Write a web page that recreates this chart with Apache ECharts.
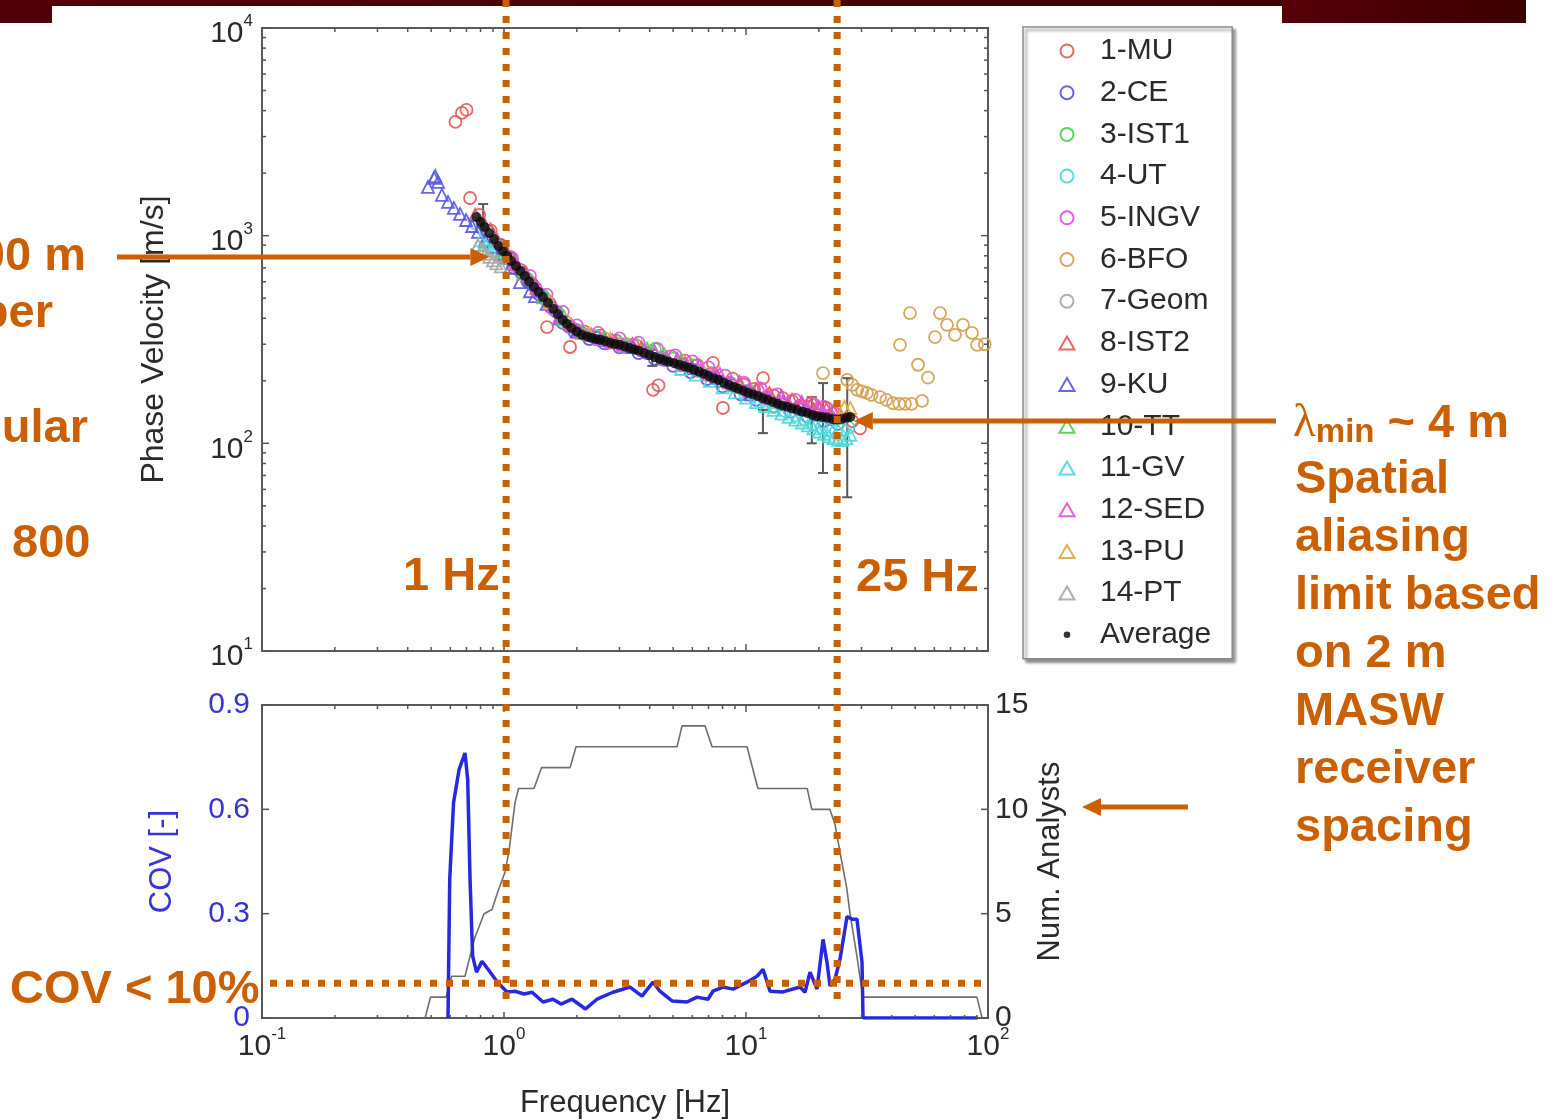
<!DOCTYPE html>
<html><head><meta charset="utf-8">
<script src="https://cdn.jsdelivr.net/npm/echarts@6/dist/echarts.min.js"></script>
<style>html,body{margin:0;padding:0;background:#fff;}#c{width:1557px;height:1120px;}</style>
</head><body><div id="c"></div>
<script>
// ---------------- data ----------------
const xMajorTicks = [0.1, 1, 10, 100];
const vMajorTicks = [10, 100, 1000, 10000];
const minorMult = [2, 3, 4, 5, 6, 7, 8, 9];
const covTicks = [0, 0.3, 0.6, 0.9];
const numTicks = [0, 5, 10, 15];

const seriesNames = ['1-MU','2-CE','3-IST1','4-UT','5-INGV','6-BFO','7-Geom','8-IST2','9-KU','10-TT','11-GV','12-SED','13-PU','14-PT'];

const mu = [[0.63,3530],[0.67,3900],[0.70,4030],[0.724,1518],[0.79,1260],[0.88,1060],[0.97,900],[1.06,790],[1.18,680],[1.3,590],[1.506,363],[1.55,470],[1.875,291],[2.15,345],[2.5,330],[2.9,312],[3.4,298],[4.13,181],[4.35,190],[4.9,262],[5.6,250],[6.3,238],[7.3,244],[8.03,148],[8.8,205],[9.8,192],[10.8,183],[11.76,206],[13.0,170],[14.2,165],[15.5,160],[16.8,152],[18.2,150],[18.7,157],[19.8,146],[21.5,148],[23.2,140],[27.5,128],[29.6,118]];
const ce = [[0.86,1050],[0.96,905],[1.06,770],[1.18,660],[1.32,575],[1.48,495],[1.65,430],[1.85,365],[2.1,338],[2.4,322],[2.8,306],[3.3,290],[3.9,272],[4.6,252],[5.4,238],[6.3,224],[7.4,206],[8.7,190],[10.2,177],[12.0,165],[14.0,154],[16.5,146],[19.5,137],[22.5,131],
  [1.0,780],[1.1,700],[1.25,600],[1.4,520],[1.55,455],[1.75,380],[1.95,345],[2.25,318],[2.6,303],[3.0,290],[3.6,272],[4.2,255],[5.0,236],[5.9,220],[6.9,204],[8.0,188],[9.5,172],[11.0,162],[13.0,150],[15.3,142],[18.0,134],[21.0,128],[24.0,124]];
const ist1 = [[1.08,740],[1.25,620],[1.45,515],[1.7,415],[2.0,352],[2.4,328],[2.9,312],[3.5,298],[4.2,284],[5.0,256],[6.0,238],[7.2,218],[8.6,196],[10.3,180]];
const ut = [[0.76,1150],[0.81,1080],[0.86,1000],[0.92,925],[0.99,845],[1.07,760],[11.5,158],[13.0,150],[14.5,143],[16.0,136],[17.5,130],[19.0,124],[20.5,119],[22.0,116],[23.5,114],[25.0,116],[26.5,119]];
const ingv = [[0.98,860],[1.15,690],[1.35,560],[1.6,440],[1.9,362],[2.25,330],[2.7,305],[3.2,290],[3.8,276],[4.5,258],[5.3,242],[6.2,226],[7.3,210],[8.6,194],[10.1,178],[12.0,166],[14.0,158],[16.5,150],[19.0,143],[22.0,136],
  [1.08,780],[1.28,640],[1.5,520],[1.75,430],[2.0,370],[2.45,340],[3.0,320],[3.6,305],[4.3,285],[5.1,265],[6.0,248],[7.0,232],[8.2,212],[9.8,196],[11.5,184],[13.5,172],[16.0,162],[18.5,155],[21.0,150]];
const bfo = [[2.0,345],[2.6,320],[3.2,300],[20.8,218],[26.2,202],[27.5,191],[28.8,181],[30.2,178],[31.6,175],[33.0,171],[35.8,167],[38.0,162],[40.5,156],[43.0,155],[45.4,155],[48.3,155],[53.4,160],[43.3,298],[47.6,424],[51.4,239],[56.5,207],[60.4,325],[63.4,424],[67.7,372],[73.0,333],[78.8,372],[85.9,340],[90.1,298],[97.0,300]];
const geom = [[0.9,960],[1.1,720],[1.5,490],[2.2,335],[3.0,300],[4.5,255],[6.5,222],[9.0,186],[13.0,158]];
const ist2 = [[0.76,1260],[0.82,1170],[0.88,1070],[0.94,950],[1.01,860],[1.1,760],[1.22,660],[1.36,560],[2.9,308],[3.7,290],[5.6,244],[7.6,212],[9.4,192],[11.0,182],[12.5,175],[14.0,168],[15.5,162],[17.0,156],[18.5,152],[20.0,148],[21.5,146],[23.0,142],[24.5,138]];
const ku = [[0.485,1716],[0.514,1897],[0.52,1935],[0.534,1814],[0.554,1571],[0.587,1453],[0.621,1360],[0.658,1272],[0.697,1190],[0.738,1113],[0.781,1042],[0.835,953],[0.892,882],[0.963,816],[1.059,699],[1.164,598],[1.28,540],[1.343,512],[1.5,470],[1.7,400],[2.0,345],[2.6,315],[3.4,292],[4.5,256],[6.0,230],[8.0,200],[10.5,172]];
const tt = [[1.0,830],[1.2,655],[1.45,505],[1.75,395],[2.1,340],[2.6,320],[3.2,300],[3.9,286],[4.13,282],[4.6,268],[5.4,250]];
const gv = [[0.8,950],[0.84,900],[0.88,850],[5.4,228],[6.2,214],[7.1,200],[8.0,186],[9.0,176],[10.0,166],[11.0,158],[12.0,151],[13.0,145],[14.0,139],[15.0,134],[16.0,130],[17.0,126],[18.0,122],[19.0,118],[20.0,114],[21.0,111],[22.0,108],[23.0,106],[24.0,104],[25.0,104],[26.0,106],[27.0,110]];
const sed = [[1.12,730],[1.38,550],[1.7,410],[2.05,345],[2.5,318],[3.1,298],[3.8,282],[4.7,258],[5.7,238],[7.0,214],[8.5,196],[10.3,180],[12.5,166],[15.0,156],[18.0,146],[21.0,140],
  [1.25,640],[1.55,470],[1.9,372],[2.3,334],[2.8,314],[3.4,300],[4.2,276],[5.2,256],[6.4,236],[7.8,216],[9.4,198],[11.5,182],[14.0,168],[17.0,158],[20.0,150],[23.0,144]];
const pu = [[1.55,475],[1.85,385],[2.25,338],[2.75,318],[25.5,150],[27.0,148]];
const pt = [[0.78,900],[0.81,860],[0.84,820],[0.87,790],[0.9,760],[0.93,735],[0.97,712]];

const avgFreq = [0.77,0.8,0.83,0.87,0.91,0.95,0.99,1.03,1.07,1.12,1.17,1.22,1.27,1.33,1.39,1.45,1.52,1.6,1.67,1.75,1.82,1.9,2.0,2.1,2.2,2.3,2.4,2.5,2.62,2.75,2.87,3.0,3.15,3.3,3.45,3.6,3.8,4.0,4.2,4.4,4.6,4.8,5.05,5.3,5.55,5.8,6.1,6.4,6.7,7.0,7.35,7.7,8.1,8.5,8.9,9.3,9.75,10.2,10.7,11.2,11.75,12.3,12.9,13.5,14.1,14.8,15.5,16.3,17.1,17.9,18.8,19.7,20.6,21.6,22.7,23.8,24.9,26.1,27.0];
const avgVel  = [1230,1164,1100,1030,960,892,845,799,755,714,676,640,602,566,536,507,475,444,418,393,376,359,345,333,327,322,318,315,310,305,301,298,293,288,283,279,272,266,260,255,251,247,243,239,235,231,226,221,216,211,206,202,196,191,187,183,179,175,172,169,165,162,158,155,152,150,147,145,142,140,137,135,134,133,131,130,131,133,134];
// error bars on average: [freq, low, high]
const avgErr = [[0.82,880,1420],[4.1,236,282],[11.75,112,145],[18.7,100,167],[20.8,72,195],[26.2,55,206]];

const numFreq = [0.472,0.497,0.576,0.608,0.69,0.755,0.827,0.892,0.94,1.01,1.049,1.11,1.148,1.33,1.43,1.875,1.985,5.19,5.44,6.77,7.24,10.1,11.2,17.9,18.7,22.2,23.3,24.5,26.1,26.9,28.7,30.4,90,94.5];
const numAnalysts = [0,1,1,2,2,3.8,5,5.2,6,7,8,10.3,11,11,12,12,13,13,14,14,13,13,11,11,10,10,9.3,7.9,6.2,5,3,1,1,0];

const covFreq = [0.587,0.5966,0.6187,0.652,0.69,0.708,0.724,0.742,0.77,0.811,0.859,0.94,1.029,1.11,1.21,1.306,1.45,1.594,1.72,1.91,2.172,2.423,2.82,3.317,3.717,4.128,4.41,4.946,5.705,6.274,6.966,7.3,8.035,8.84,10.1,11.1,11.76,12.57,14.22,16.72,17.53,18.39,19.65,20.81,21.61,22.24,23.33,24.46,26.15,27.42,28.75,30.16,30.45,90.9];
const covVal = [0,0.398,0.619,0.714,0.762,0.685,0.398,0.178,0.132,0.163,0.14,0.103,0.075,0.077,0.069,0.074,0.046,0.054,0.04,0.054,0.026,0.054,0.074,0.089,0.063,0.103,0.077,0.049,0.046,0.06,0.054,0.077,0.089,0.083,0.103,0.12,0.14,0.077,0.075,0.089,0.074,0.132,0.083,0.226,0.16,0.092,0.112,0.169,0.292,0.284,0.284,0.16,0,0];

// annotation anchors (data values)
const limitFreqs = [1.02, 23.8];
const covLimit = 0.1;
const arrowTipLow = [0.87, 790];
const arrowTipHigh = [27.9, 128];

// ---------------- styling ----------------
const ORANGE = '#CA5F04';
const TXT = '#2a2a2a';
const FONT = 'Liberation Sans';
const analystData = [mu, ce, ist1, ut, ingv, bfo, geom, ist2, ku, tt, gv, sed, pu, pt];
const analystColors = ['#e45a5a','#5a5ae0','#4fcf4f','#4fd8d8','#dd55dd','#d4a050','#a8a8a8','#e45a5a','#5a5ae0','#4fcf4f','#4fd8d8','#dd55dd','#ddaa44','#a8a8a8'];
const TOP = {left:262, top:28, width:726, height:623};
const BOT = {left:262, top:705, width:726, height:314};
const TRI = 'path://M5,0L10,8.66L0,8.66Z';

const powRich = {
  b:{fontSize:30, lineHeight:30, padding:[12,0,0,0], color:TXT, fontFamily:FONT},
  s:{fontSize:17, lineHeight:17, verticalAlign:'top', color:TXT, fontFamily:FONT}
};
const powLabel = v => '{b|10}{s|' + Math.round(Math.log10(v)) + '}';

const series = [];
analystData.forEach((d, i) => {
  series.push({
    name: seriesNames[i], type:'scatter', xAxisIndex:0, yAxisIndex:0,
    symbol: i < 7 ? 'circle' : 'triangle', symbolSize: 12,
    data: d,
    itemStyle:{color:'rgba(0,0,0,0)', borderColor: analystColors[i], borderWidth:1.8, opacity:0.92},
    silent:true
  });
});
series.push({
  type:'custom', xAxisIndex:0, yAxisIndex:0, data: avgErr, encode:{x:0, y:[1,2]}, silent:true,
  renderItem:(params, api) => {
    const f = api.value(0);
    const lo = api.coord([f, api.value(1)]), hi = api.coord([f, api.value(2)]);
    const st = {stroke:'#5a5a5a', lineWidth:2};
    return {type:'group', children:[
      {type:'line', shape:{x1:lo[0],y1:lo[1],x2:hi[0],y2:hi[1]}, style:st},
      {type:'line', shape:{x1:lo[0]-5,y1:lo[1],x2:lo[0]+5,y2:lo[1]}, style:st},
      {type:'line', shape:{x1:hi[0]-5,y1:hi[1],x2:hi[0]+5,y2:hi[1]}, style:st}
    ]};
  }
});
series.push({
  name:'Average', type:'scatter', xAxisIndex:0, yAxisIndex:0, symbol:'circle', symbolSize:10,
  data: avgFreq.map((f,i)=>[f, avgVel[i]]), itemStyle:{color:'#0a0a0a'}, silent:true
});
series.push({
  type:'line', xAxisIndex:1, yAxisIndex:2, data: numFreq.map((f,i)=>[f, numAnalysts[i]]),
  showSymbol:false, symbol:'none', lineStyle:{color:'#6e6e6e', width:1.6}, silent:true
});
series.push({
  type:'line', xAxisIndex:1, yAxisIndex:1, data: covFreq.map((f,i)=>[f, covVal[i]]),
  showSymbol:false, symbol:'none', lineStyle:{color:'#2828e0', width:3.5}, silent:true
});

const dotSvg = 'image://data:image/svg+xml;utf8,' + encodeURIComponent('<svg xmlns="http://www.w3.org/2000/svg" width="13" height="13"><circle cx="6.5" cy="6.5" r="3.3" fill="black"/></svg>');

const legendData = seriesNames.map((n, i) => i < 7 ? {name:n} : {name:n, icon:TRI}).concat([{name:'Average', icon: dotSvg}]);

const option = {
  animation:false,
  backgroundColor:'#fff',
  textStyle:{fontFamily:FONT},
  grid:[
    Object.assign({show:true, borderColor:'#5a5a5a', borderWidth:2, backgroundColor:'rgba(0,0,0,0)'}, TOP),
    Object.assign({show:true, borderColor:'#5a5a5a', borderWidth:2, backgroundColor:'rgba(0,0,0,0)'}, BOT)
  ],
  xAxis:[
    {type:'log', gridIndex:0, min:0.1, max:100, logBase:10, axisLine:{show:false}, axisTick:{show:false}, axisLabel:{show:false}, splitLine:{show:false}},
    {type:'log', gridIndex:1, min:0.1, max:100, logBase:10, axisLine:{show:false}, axisTick:{show:false}, splitLine:{show:false},
     axisLabel:{formatter:powLabel, rich:powRich, margin:8},
     name:'Frequency [Hz]', nameLocation:'middle', nameGap:70, nameTextStyle:{fontSize:31, color:TXT, fontFamily:FONT}}
  ],
  yAxis:[
    {type:'log', gridIndex:0, min:10, max:10000, logBase:10, axisLine:{show:false}, axisTick:{show:false}, splitLine:{show:false},
     axisLabel:{formatter:powLabel, rich:powRich, margin:9},
     name:'Phase Velocity [m/s]', nameLocation:'middle', nameGap:92, nameTextStyle:{fontSize:32, color:TXT, fontFamily:FONT}},
    {type:'value', gridIndex:1, min:0, max:0.9, interval:0.3, position:'left', axisLine:{show:false}, axisTick:{show:false}, splitLine:{show:false},
     axisLabel:{color:'#3535d5', fontSize:30, margin:12, fontFamily:FONT, formatter:v => v === 0 ? '0' : v.toFixed(1)},
     name:'COV [-]', nameLocation:'middle', nameGap:84, nameTextStyle:{fontSize:31, color:'#3535d5', fontFamily:FONT}},
    {type:'value', gridIndex:1, min:0, max:15, interval:5, position:'right', axisLine:{show:false}, axisTick:{show:false}, splitLine:{show:false},
     axisLabel:{color:TXT, fontSize:30, margin:7, fontFamily:FONT},
     name:'Num. Analysts', nameLocation:'middle', nameGap:47, nameTextStyle:{fontSize:31, color:TXT, fontFamily:FONT}}
  ],
  legend:{
    orient:'vertical', left:1023, top:27, padding:[9,21,9,16],
    itemWidth:56, itemHeight:13, itemGap:11.7, selectedMode:false, symbolKeepAspect:true,
    backgroundColor:'#fff', borderColor:'#8a8a8a', borderWidth:1.5,
    shadowColor:'rgba(0,0,0,0.45)', shadowOffsetX:3, shadowOffsetY:3, shadowBlur:3,
    textStyle:{fontSize:30, lineHeight:30, color:TXT, fontFamily:FONT},
    data:legendData
  },
  series: series
};

const chart = echarts.init(document.getElementById('c'), null, {renderer:'canvas'});
chart.setOption(option);

// ---------------- overlays: ticks + annotations ----------------
const g = [];
const tick = (x1,y1,x2,y2) => g.push({type:'line', z:50, silent:true, shape:{x1,y1,x2,y2}, style:{stroke:'#555', lineWidth:1.5}});
const minorOf = majors => { const out=[]; majors.slice(0,-1).forEach(d => minorMult.forEach(m => out.push(d*m))); return out; };

[[TOP,0],[BOT,1]].forEach(([r, gi]) => {
  xMajorTicks.forEach(v => { const p = chart.convertToPixel({xAxisIndex:gi}, v); tick(p, r.top+r.height, p, r.top+r.height-7); tick(p, r.top, p, r.top+7); });
  minorOf(xMajorTicks).forEach(v => { const p = chart.convertToPixel({xAxisIndex:gi}, v); tick(p, r.top+r.height, p, r.top+r.height-4); tick(p, r.top, p, r.top+4); });
});
vMajorTicks.forEach(v => { const p = chart.convertToPixel({yAxisIndex:0}, v); tick(TOP.left, p, TOP.left+7, p); tick(TOP.left+TOP.width, p, TOP.left+TOP.width-7, p); });
minorOf(vMajorTicks).forEach(v => { const p = chart.convertToPixel({yAxisIndex:0}, v); tick(TOP.left, p, TOP.left+4, p); tick(TOP.left+TOP.width, p, TOP.left+TOP.width-4, p); });
covTicks.forEach(v => { const p = chart.convertToPixel({yAxisIndex:1}, v); tick(BOT.left, p, BOT.left+7, p); });
numTicks.forEach(v => { const p = chart.convertToPixel({yAxisIndex:2}, v); tick(BOT.left+BOT.width, p, BOT.left+BOT.width-7, p); });

// top dark-red slide band
const bandFill = {type:'linear', x:0, y:0, x2:1, y2:0, colorStops:[{offset:0,color:'#560008'},{offset:1,color:'#3c0003'}]};
g.push({type:'rect', z:60, silent:true, shape:{x:0,y:0,width:1526,height:6}, style:{fill:bandFill}});
g.push({type:'rect', z:60, silent:true, shape:{x:0,y:0,width:52,height:23}, style:{fill:'#500006'}});
g.push({type:'rect', z:60, silent:true, shape:{x:1282,y:0,width:244,height:23}, style:{fill:bandFill}});

// dotted limit lines
const dotStyle = {stroke:ORANGE, lineWidth:7, lineDash:[7,9]};
limitFreqs.forEach(f => { const x = chart.convertToPixel({xAxisIndex:0}, f); g.push({type:'line', z:80, silent:true, shape:{x1:x,y1:0,x2:x,y2:1006}, style:dotStyle}); });
const yCov = chart.convertToPixel({yAxisIndex:1}, covLimit);
g.push({type:'line', z:80, silent:true, shape:{x1:270,y1:yCov,x2:990,y2:yCov}, style:dotStyle});

// arrows
function arrow(x1, x2, y) {
  const dir = x2 > x1 ? 1 : -1, head = 19;
  g.push({type:'line', z:85, silent:true, shape:{x1:x1, y1:y, x2:x2 - dir*head, y2:y}, style:{stroke:ORANGE, lineWidth:5}});
  g.push({type:'polygon', z:85, silent:true, shape:{points:[[x2,y],[x2-dir*head,y-9],[x2-dir*head,y+9]]}, style:{fill:ORANGE}});
}
const tipL = chart.convertToPixel({gridIndex:0}, arrowTipLow);
arrow(117, tipL[0], tipL[1]);
const tipH = chart.convertToPixel({gridIndex:0}, arrowTipHigh);
arrow(1276, tipH[0], tipH[1]);
arrow(1188, 1082, 807);

// annotation texts
const bold = 'bold 47px "Liberation Sans"';
function txt(s, x, y, align) {
  g.push({type:'text', z:90, silent:true, x:x, y:y, style:{text:s, font:bold, fill:ORANGE, align:align||'left', verticalAlign:'middle'}});
}
txt('00 m', 86, 257, 'right');
txt('per', 53, 314, 'right');
txt('ular', 88, 429, 'right');
txt('800', 12, 544);
txt('1 Hz', 403, 577);
txt('25 Hz', 856, 578);
txt('COV < 10%', 10, 990);
g.push({type:'text', z:90, silent:true, x:1293, y:424, style:{
  text:'{l|λ}{m|min}{t| ~ 4 m}', verticalAlign:'middle', align:'left',
  rich:{
    l:{font:'47px "Liberation Serif"', fill:ORANGE, verticalAlign:'middle', lineHeight:50},
    m:{font:'bold 33px "Liberation Sans"', fill:ORANGE, verticalAlign:'bottom', lineHeight:32, padding:[22,0,0,0]},
    t:{font:bold, fill:ORANGE, verticalAlign:'middle', lineHeight:50}
  }}});
g.push({type:'text', z:90, silent:true, x:1295, y:451, style:{
  text:'Spatial\naliasing\nlimit based\non 2 m\nMASW\nreceiver\nspacing',
  font:bold, fill:ORANGE, lineHeight:58, align:'left', verticalAlign:'top'}});

chart.setOption({graphic: g});
</script>
</body></html>
